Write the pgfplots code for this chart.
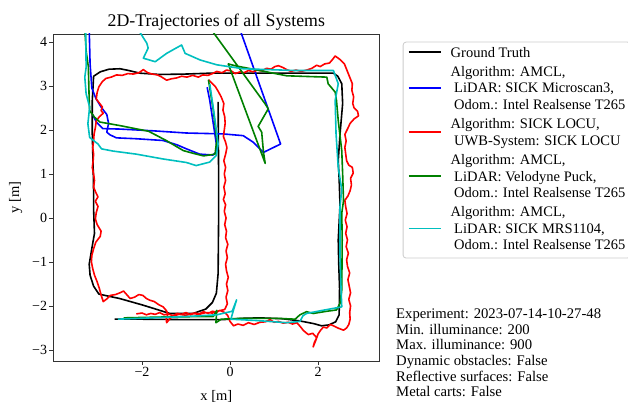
\documentclass[border=0pt]{standalone}
\usepackage{pgfplots}
\pgfplotsset{compat=1.18}
\usepackage{fontspec}
\setmainfont{Liberation Serif}
\definecolor{mplgreen}{rgb}{0,0.5,0}
\definecolor{mplcyan}{rgb}{0,0.75,0.75}
% struts for the legend rows: normal line, and first line of an entry (a little more room above)
\newcommand{\nl}{\rule[-4.9pt]{0pt}{16.3pt}}
\newcommand{\fl}{\rule[-4.9pt]{0pt}{19.6pt}}
\newcommand{\ind}{\hspace*{3.5pt}}

\begin{document}
\begin{tikzpicture}
\begin{axis}[
    scale only axis,
    width=326pt, height=327pt,
    xmin=-4.016, xmax=3.393,
    ymin=-3.25, ymax=4.18,
    xtick={-2,0,2}, xticklabels={−2,0,2},
    ytick={-3,-2,-1,0,1,2,3,4}, yticklabels={−3,−2,−1,0,1,2,3,4},
    tick pos=left, tick align=outside, major tick length=4pt,
    axis line style={black!80, line width=0.8pt},
    major tick style={black!80, line width=0.8pt},
    tick label style={font=\fontsize{14}{16}\selectfont, inner sep=2pt},
    xlabel={x [m]}, ylabel={y [m]},
    every axis x label/.style={at={(axis description cs:0.5,0)}, anchor=base, yshift=-40pt,
        font=\fontsize{14.5}{16}\selectfont},
    every axis y label/.style={at={(axis description cs:-0.105,0.5)}, rotate=90, anchor=base,
        font=\fontsize{14.5}{16}\selectfont},
    title={2D-Trajectories of all Systems},
    every axis title/.style={at={(axis description cs:0.5,1)}, anchor=base, yshift=7pt,
        font=\fontsize{17.8}{20}\selectfont},
    legend image code/.code={\path (0pt,0pt) -- (32pt,0pt); \draw[overlay,#1] (0pt,0pt) -- (32pt,0pt);},
    legend style={at={(axis description cs:1.0718,0.9765)}, anchor=north west,
        draw=black!20, rounded corners=3pt, line width=0.8pt,
        inner xsep=5pt, inner ysep=3.6pt, row sep=0pt, column sep=9pt,
        font=\fontsize{14.5}{16.3}\selectfont,
        nodes={inner sep=0pt, text depth=4.9pt}, cells={anchor=base west}},
    every axis plot/.append style={line width=1.6pt, line join=round},
]
% Ground Truth
\addplot[black, forget plot] coordinates {
(-2.62,-2.30) (-2.0,-2.30) (-1.0,-2.31) (-0.16,-2.31) (0.3,-2.28) (0.68,-2.27) (1.2,-2.29) (1.59,-2.34)
(1.9,-2.40) (2.08,-2.45) (2.25,-2.43) (2.4,-2.36) (2.48,-2.2) (2.49,-1.6) (2.47,-1.0) (2.46,-0.5)
(2.5,0.3) (2.48,0.9) (2.46,1.3) (2.5,1.9) (2.56,2.6) (2.54,3.05) (2.45,3.22) (2.35,3.29) (1.5,3.29)
(0.5,3.29) (-0.45,3.29) (-1.0,3.27) (-1.6,3.26) (-2.05,3.29) (-2.3,3.35) (-2.5,3.39) (-2.75,3.38)
(-2.95,3.32) (-3.1,3.22) (-3.13,2.67) (-3.13,1.9) (-3.11,1.15) (-3.1,0.6) (-3.1,0.2) (-3.08,-0.35)
(-3.15,-0.75) (-3.2,-1.05) (-3.18,-1.3) (-3.1,-1.55) (-2.98,-1.73) (-2.7,-1.79) (-2.51,-1.83)
(-1.98,-1.98) (-1.37,-2.17) (-0.84,-2.17) (-0.55,-2.07) (-0.4,-1.92) (-0.31,-1.71) (-0.27,-1.26)
(-0.26,-0.12) (-0.26,1.15) (-0.27,2.64)
};

% AMCL, Microscan3
\addplot[blue, forget plot] coordinates {
(-3.2,4.3) (-3.18,3.5) (-3.14,2.95) (-3.05,2.72) (-2.93,2.52) (-2.8,2.35) (-2.76,2.15) (-2.8,1.95)
(-2.73,1.89) (-2.58,1.82) (-2.13,1.8) (-1.52,1.76) (-1.2,1.66) (-0.99,1.57) (-0.69,1.45) (-0.39,1.43)
(-0.31,1.5) (-0.31,1.68) (-0.39,2.21) (-0.46,2.67) (-0.52,2.97)
};
\addplot[blue, forget plot] coordinates {
(-3.12,2.35) (-3.04,2.18) (-2.89,2.03) (-2.51,2.02) (-1.75,1.98) (-0.99,1.93) (-0.16,1.91) (0.3,1.87)
(0.53,1.72) (0.76,1.49) (1.15,1.68) (0.22,4.3)
};

% SICK LOCU
\addplot[red, forget plot] coordinates {
(-2.13,-2.18) (-2.0,-2.16) (-1.9,-2.2) (-1.8,-2.17) (-1.7,-2.19) (-1.6,-2.15) (-1.5,-2.2) (-1.4,-2.18)
(-1.3,-2.22) (-1.2,-2.17) (-1.1,-2.19) (-1.0,-2.15) (-0.9,-2.2) (-0.8,-2.16) (-0.7,-2.18) (-0.6,-2.13)
(-0.5,-2.17) (-0.4,-2.12) (-0.3,-2.14) (-0.23,-2.1) (-0.12,-2.15) (-0.05,-2.22)
(0.0,-2.35) (0.08,-2.45) (0.18,-2.41) (0.3,-2.44) (0.42,-2.38) (0.55,-2.42) (0.68,-2.37) (0.8,-2.36)
(0.91,-2.31) (1.0,-2.37) (1.1,-2.35) (1.21,-2.39) (1.32,-2.37) (1.42,-2.41) (1.52,-2.38) (1.6,-2.47)
(1.67,-2.56) (1.78,-2.65) (1.88,-2.62) (1.97,-2.72) (1.92,-2.82) (1.89,-2.93) (1.95,-2.78) (2.0,-2.64)
(2.06,-2.55) (2.12,-2.48) (2.2,-2.5) (2.28,-2.42) (2.35,-2.45) (2.45,-2.5) (2.58,-2.55) (2.65,-2.5)
(2.7,-2.42) (2.73,-2.3) (2.72,-2.15)
(2.74,-2.0) (2.7,-1.85) (2.74,-1.7) (2.71,-1.55) (2.68,-1.4) (2.72,-1.25) (2.67,-1.1) (2.65,-0.95)
(2.69,-0.8) (2.64,-0.65) (2.67,-0.5) (2.63,-0.35) (2.66,-0.2) (2.62,-0.05) (2.66,0.1) (2.63,0.25)
(2.61,0.4) (2.68,0.5) (2.73,0.62) (2.76,0.75) (2.74,0.9) (2.8,1.02) (2.78,1.15) (2.7,1.2) (2.65,1.3)
(2.63,1.45) (2.61,1.6) (2.64,1.75) (2.61,1.9) (2.67,2.02) (2.73,2.15) (2.82,2.25) (2.92,2.32)
(2.9,2.42) (2.82,2.5) (2.79,2.6) (2.81,2.75) (2.77,2.9) (2.78,3.05) (2.72,3.2) (2.66,3.35) (2.6,3.5)
(2.5,3.6) (2.39,3.68) (2.33,3.6) (2.26,3.52) (2.15,3.5) (2.05,3.44) (1.97,3.47) (1.86,3.4) (1.74,3.36)
(1.62,3.33) (1.5,3.36) (1.38,3.33) (1.27,3.38) (1.2,3.42) (1.1,3.46) (1.02,3.44) (0.93,3.38)
(0.83,3.4) (0.72,3.34) (0.62,3.36) (0.53,3.32) (0.42,3.35) (0.32,3.3) (0.23,3.32) (0.12,3.28)
(0.03,3.34) (-0.08,3.36) (-0.18,3.3) (-0.3,3.33) (-0.4,3.28) (-0.5,3.24) (-0.62,3.25) (-0.72,3.2)
(-0.85,3.24) (-0.98,3.2) (-1.1,3.22) (-1.22,3.18) (-1.34,3.16) (-1.44,3.13) (-1.55,3.2) (-1.65,3.25)
(-1.77,3.27) (-1.87,3.3) (-1.97,3.37) (-2.07,3.3) (-2.2,3.27) (-2.32,3.28) (-2.45,3.24) (-2.58,3.25)
(-2.7,3.2) (-2.82,3.17) (-2.9,3.1) (-2.98,2.98)
(-3.02,2.85) (-3.04,2.7) (-2.96,2.6) (-2.9,2.52) (-2.93,2.44) (-2.88,2.38) (-2.97,2.3) (-3.04,2.2)
(-3.06,2.05) (-3.09,1.9) (-3.1,1.75) (-3.12,1.6) (-3.1,1.45) (-3.11,1.3) (-3.13,1.15) (-3.1,1.0)
(-3.08,0.85) (-3.1,0.7) (-3.05,0.58) (-3.0,0.48) (-3.06,0.38) (-3.0,0.26) (-3.04,0.12) (-3.06,-0.02)
(-3.02,-0.15) (-2.93,-0.3) (-2.95,-0.42) (-3.05,-0.55) (-3.1,-0.7) (-3.14,-0.85) (-3.15,-1.0)
(-3.12,-1.15) (-3.08,-1.3) (-3.02,-1.45) (-2.97,-1.6) (-2.93,-1.75) (-2.88,-1.9) (-2.8,-1.84)
(-2.72,-1.76) (-2.6,-1.74) (-2.5,-1.7) (-2.42,-1.66) (-2.34,-1.75) (-2.27,-1.83) (-2.17,-1.8)
(-2.07,-1.74) (-1.98,-1.76) (-1.9,-1.83) (-1.82,-1.87) (-1.72,-1.9) (-1.62,-1.97) (-1.52,-2.02)
(-1.45,-2.1) (-1.41,-2.18) (-1.45,-2.3) (-1.44,-2.38) (-1.36,-2.28) (-1.28,-2.22) (-1.15,-2.19)
(-1.0,-2.21) (-0.85,-2.17) (-0.7,-2.19) (-0.55,-2.15) (-0.4,-2.16) (-0.25,-2.11) (-0.12,-2.08)
(-0.06,-1.95) (-0.09,-1.8) (-0.05,-1.65) (-0.08,-1.5) (-0.04,-1.35) (-0.08,-1.2) (-0.1,-1.05)
(-0.06,-0.9) (-0.09,-0.75) (-0.05,-0.6) (-0.1,-0.45) (-0.08,-0.3) (-0.12,-0.15) (-0.09,0.0)
(-0.13,0.15) (-0.1,0.3) (-0.15,0.42) (-0.11,0.55) (-0.14,0.7) (-0.1,0.85) (-0.13,1.0) (-0.1,1.15)
(-0.14,1.3) (-0.1,1.45) (-0.07,1.6) (-0.1,1.72) (-0.15,1.85) (-0.13,2.0) (-0.11,2.15) (-0.12,2.3)
(-0.16,2.45) (-0.14,2.6) (-0.2,2.75) (-0.27,2.88) (-0.33,2.98) (-0.42,3.07) (-0.49,3.14)
};

% AMCL, Velodyne Puck
\addplot[mplgreen, forget plot] coordinates {
(-2.42,-2.27) (-1.5,-2.25) (-0.6,-2.24) (-0.38,-2.24) (-0.3,-2.1) (-0.32,-2.38) (-0.2,-2.3) (0.3,-2.28)
(1.06,-2.28) (1.48,-2.3) (1.59,-2.2) (1.74,-2.13) (1.89,-2.17) (2.2,-2.12) (2.42,-2.09) (2.5,-1.94)
(2.54,-1.64) (2.55,-0.5) (2.54,0.11) (2.58,0.39) (2.56,1.0) (2.54,1.53) (2.46,2.21) (2.42,2.67)
(2.39,2.86) (2.23,3.05) (2.2,3.2) (1.29,3.23) (0.11,3.46) (-0.04,3.5) (0.8,1.24) (0.76,1.5)
(0.72,1.95) (0.64,2.08) (0.76,2.29) (0.87,2.48) (0.8,2.59) (-0.44,4.3)
};
\addplot[mplgreen, forget plot] coordinates {
(-3.3,4.3) (-3.27,3.8) (-3.22,3.44) (-3.2,2.68) (-3.19,2.44) (-3.08,2.29) (-2.96,2.18) (-2.51,2.1)
(-1.85,1.97) (-1.45,1.76) (-1.06,1.53) (-0.84,1.47) (-0.6,1.41) (-0.34,1.45) (-0.3,1.77) (-0.38,2.45)
(-0.49,3.14)
};

% AMCL, MRS1104
\addplot[mplcyan, forget plot] coordinates {
(-2.55,-2.30) (-1.8,-2.27) (-1.0,-2.24) (-0.3,-2.2) (0.05,-2.12) (0.15,-1.86) (0.08,-2.09) (0.02,-2.3)
(0.6,-2.33) (1.29,-2.38) (1.59,-2.35) (1.66,-2.22) (1.74,-2.17) (2.1,-2.1) (2.54,-2.02) (2.52,-1.5)
(2.5,-0.88) (2.5,0.26) (2.54,0.64) (2.46,1.15) (2.41,1.91) (2.39,2.67) (2.46,3.05) (2.35,3.35)
(1.5,3.35) (0.3,3.39) (-0.3,3.48) (-0.68,3.59) (-1.02,3.74) (-1.1,3.93) (-1.44,3.74) (-1.7,3.55)
(-1.97,3.63) (-1.86,3.86) (-1.89,3.97) (-2.1,4.3)
};
\addplot[mplcyan, forget plot] coordinates {
(-3.28,4.3) (-3.27,3.42) (-3.3,3.2) (-3.27,2.82) (-3.19,2.52) (-3.23,2.14) (-3.19,1.83) (-3.0,1.68)
(-2.92,1.57) (-2.66,1.52) (-2.13,1.45) (-1.52,1.34) (-0.99,1.26) (-0.77,1.19) (-0.46,1.27)
(-0.31,1.42) (-0.27,1.68) (-0.35,2.29) (-0.46,3.05)
};

% legend, one row per text line
\addlegendimage{black, line width=1.6pt, yshift=4.8pt}
\addlegendentry{\nl Ground Truth}
\addlegendimage{empty legend}
\addlegendentry{\fl Algorithm: AMCL,}
\addlegendimage{blue, line width=1.6pt, yshift=4.8pt}
\addlegendentry{\nl\ind LiDAR: SICK Microscan3,}
\addlegendimage{empty legend}
\addlegendentry{\nl\ind Odom.: Intel Realsense T265}
\addlegendimage{red, line width=1.6pt, yshift=-3.4pt}
\addlegendentry{\fl Algorithm: SICK LOCU,}
\addlegendimage{empty legend}
\addlegendentry{\nl\ind UWB-System: SICK LOCU}
\addlegendimage{empty legend}
\addlegendentry{\fl Algorithm: AMCL,}
\addlegendimage{mplgreen, line width=1.6pt, yshift=4.8pt}
\addlegendentry{\nl\ind LiDAR: Velodyne Puck,}
\addlegendimage{empty legend}
\addlegendentry{\nl\ind Odom.: Intel Realsense T265}
\addlegendimage{empty legend}
\addlegendentry{\fl Algorithm: AMCL,}
\addlegendimage{mplcyan, line width=1.6pt, yshift=4.8pt}
\addlegendentry{\nl\ind LiDAR: SICK MRS1104,}
\addlegendimage{empty legend}
\addlegendentry{\nl\ind Odom.: Intel Realsense T265}
\end{axis}
\node[anchor=base west, inner sep=0pt, font=\fontsize{14.7}{15.6}\selectfont] at (342.7pt,42.2pt)
  {\begin{tabular}[t]{@{}l@{}}Experiment: 2023-07-14-10-27-48\\Min. illuminance: 200\\Max. illuminance: 900\\Dynamic obstacles: False\\Reflective surfaces: False\\Metal carts: False\end{tabular}};
\pgfresetboundingbox
\path[use as bounding box] (-53.3pt,-42pt) rectangle (574.7pt,361pt);
\end{tikzpicture}
\end{document}
